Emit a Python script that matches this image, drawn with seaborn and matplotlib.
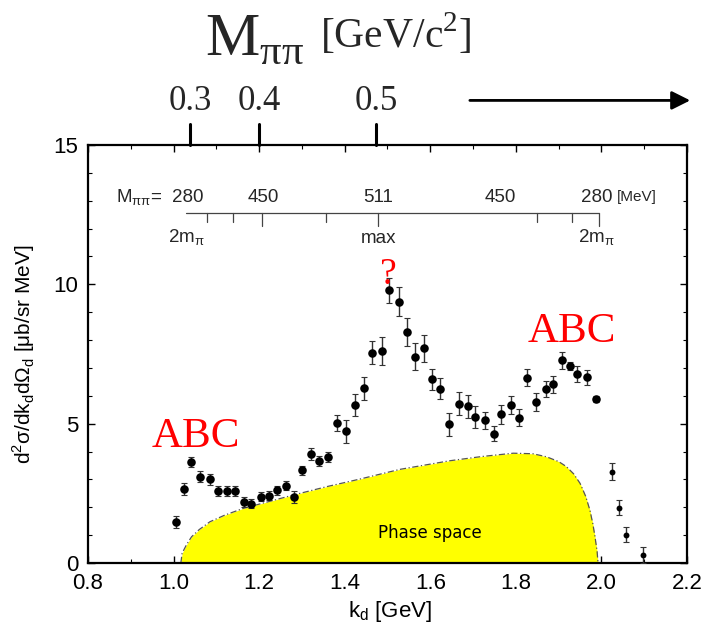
import matplotlib
matplotlib.use("Agg")
import matplotlib.pyplot as plt
import numpy as np
import pandas as pd
import seaborn as sns
from matplotlib.ticker import MultipleLocator, FormatStrFormatter

# Measured deuteron momentum spectrum
k_d = [1.006, 1.024, 1.041, 1.062, 1.085, 1.104, 1.125, 1.143, 1.164, 1.181,
       1.204, 1.222, 1.241, 1.262, 1.282, 1.301, 1.322, 1.341, 1.362, 1.382,
       1.403, 1.424, 1.444, 1.464, 1.487, 1.504, 1.526, 1.545, 1.565, 1.585,
       1.605, 1.623, 1.644, 1.667, 1.688, 1.705, 1.728, 1.748, 1.765, 1.788,
       1.807, 1.826, 1.847, 1.870, 1.887, 1.907, 1.927, 1.944, 1.967, 1.988,
       2.024, 2.042, 2.057, 2.096]
cross_section = [1.47, 2.66, 3.62, 3.09, 3.00, 2.57, 2.57, 2.57, 2.18, 2.13,
                 2.37, 2.42, 2.61, 2.78, 2.37, 3.32, 3.91, 3.66, 3.80, 5.03,
                 4.73, 5.67, 6.27, 7.55, 7.61, 9.78, 9.38, 8.29, 7.40, 7.70,
                 6.59, 6.26, 4.98, 5.72, 5.62, 5.23, 5.12, 4.64, 5.33, 5.67,
                 5.22, 6.65, 5.78, 6.24, 6.41, 7.27, 7.08, 6.78, 6.66, 5.88,
                 3.28, 1.99, 1.02, 0.28]
cross_section_err = [0.20, 0.21, 0.18, 0.20, 0.20, 0.18, 0.18, 0.18, 0.18, 0.17,
                     0.16, 0.16, 0.16, 0.17, 0.21, 0.16, 0.20, 0.18, 0.19, 0.28,
                     0.41, 0.39, 0.41, 0.40, 0.50, 0.44, 0.51, 0.51, 0.49, 0.49,
                     0.38, 0.38, 0.41, 0.40, 0.40, 0.39, 0.30, 0.27, 0.35, 0.32,
                     0.30, 0.30, 0.31, 0.28, 0.30, 0.30, 0.15, 0.28, 0.28, 0.10,
                     0.30, 0.28, 0.28, 0.28]

# Phase-space distribution (arbitrary normalisation)
phase_k = [1.017, 1.020, 1.030, 1.042, 1.060, 1.085, 1.120, 1.163, 1.202, 1.280,
           1.358, 1.435, 1.529, 1.646, 1.720, 1.794, 1.840, 1.872, 1.900, 1.918,
           1.935, 1.950, 1.963, 1.973, 1.980, 1.985, 1.990, 1.992]
phase_y = [0.00, 0.35, 0.65, 0.94, 1.20, 1.48, 1.72, 1.96, 2.12, 2.44,
           2.74, 3.01, 3.36, 3.67, 3.82, 3.94, 3.92, 3.81, 3.64, 3.46,
           3.20, 2.86, 2.40, 1.90, 1.40, 0.94, 0.40, 0.00]

# Pion-pair invariant mass scale (top, GeV/c^2)
mpipi_top_k = [1.038, 1.200, 1.473]
mpipi_top_labels = ["0.3", "0.4", "0.5"]

# Pion-pair invariant mass scale (inner, MeV)
inner_tick_k = [1.078, 1.139, 1.207, 1.356, 1.478, 1.849, 1.931, 1.994]
inner_major_k = [1.207, 1.478, 1.994]
inner_label_k = [1.034, 1.209, 1.478, 1.763, 1.989]
inner_labels = ["280", "450", "511", "450", "280"]

sns.set_theme(style="ticks")
plt.rcParams["font.family"] = ["Liberation Sans", "DejaVu Sans"]
SERIF = ["Liberation Serif", "DejaVu Serif"]

fig = plt.figure(figsize=(7.02, 6.30), dpi=100)
ax = fig.add_axes([88 / 702, 67 / 630, 599 / 702, 418 / 630])

df = pd.DataFrame({"k": k_d, "xs": cross_section, "err": cross_section_err})

# phase space
ax.fill_between(phase_k, phase_y, color="#ffff00", lw=0, zorder=1)
ax.plot(phase_k, phase_y, color="#555555", lw=0.9, ls=(0, (5, 2, 1, 2)), zorder=2)
ax.text(1.60, 1.08, "Phase space", ha="center", va="center", fontsize=12,
        family=["DejaVu Sans"], color="black")

# data
ax.errorbar(df["k"], df["xs"], yerr=df["err"], fmt="none", ecolor="#333333",
            elinewidth=1.0, capsize=2, capthick=0.8, zorder=3)
sns.scatterplot(data=df.iloc[:50], x="k", y="xs", color="black", s=38,
                linewidth=0, ax=ax, zorder=4)
sns.scatterplot(data=df.iloc[50:], x="k", y="xs", color="black", s=18,
                linewidth=0, ax=ax, zorder=4)

ax.set_xlim(0.8, 2.2)
ax.set_ylim(0, 15)
ax.xaxis.set_major_locator(MultipleLocator(0.2))
ax.xaxis.set_minor_locator(MultipleLocator(0.1))
ax.xaxis.set_major_formatter(FormatStrFormatter("%.1f"))
ax.yaxis.set_major_locator(MultipleLocator(5))
ax.yaxis.set_minor_locator(MultipleLocator(1))
ax.tick_params(which="both", direction="in", top=True, right=True, colors="black")
ax.tick_params(which="major", length=5, width=1.0, labelsize=16, pad=7)
ax.tick_params(which="minor", length=3, width=0.8)
for sp in ax.spines.values():
    sp.set_linewidth(1.6)
    sp.set_color("black")

ax.set_xlabel(r"k$_\mathregular{d}$ [GeV]", fontsize=16, color="black")
ax.set_ylabel(r"d$^\mathregular{2}$σ/dk$_\mathregular{d}$dΩ$_\mathregular{d}$ [μb/sr MeV]",
              fontsize=15, color="black")
ax.xaxis.set_label_coords(0.504, -0.085)
ax.yaxis.set_label_coords(-0.085, 0.5)

# annotations
ax.text(1.052, 4.16, "ABC", color="red", fontsize=31, family=SERIF, ha="center", va="baseline")
ax.text(1.931, 7.93, "ABC", color="red", fontsize=31, family=SERIF, ha="center", va="baseline")
ax.text(1.503, 10.02, "?", color="red", fontsize=27, family=SERIF, ha="center", va="baseline")

# inner M_pipi scale
ax.plot([1.029, 1.994], [12.56, 12.56], color="#444444", lw=0.9)
for kk in inner_tick_k:
    low = 12.1 if kk in inner_major_k else 12.25
    ax.plot([kk, kk], [12.56, low], color="#444444", lw=0.9)
for kk, lab in zip(inner_label_k, inner_labels):
    ax.text(kk, 13.1, lab, ha="center", va="center", fontsize=13.5)
ax.text(0.975, 13.1, r"M$_\mathregular{ππ}$=", ha="right", va="center", fontsize=13.5)
ax.text(2.083, 13.13, "[MeV]", ha="center", va="center", fontsize=11)
ax.text(1.031, 11.66, r"2m$_\mathregular{π}$", ha="center", va="center", fontsize=13.5)
ax.text(1.478, 11.66, "max", ha="center", va="center", fontsize=13.5)
ax.text(1.989, 11.66, r"2m$_\mathregular{π}$", ha="center", va="center", fontsize=13.5)

# top M_pipi scale in GeV/c^2
for kk, lab in zip(mpipi_top_k, mpipi_top_labels):
    ax.plot([kk, kk], [15.0, 15.75], color="black", lw=2.2, clip_on=False)
    ax.text(kk, 16.55, lab, ha="center", va="center", fontsize=25, family=SERIF)
ax.annotate("", xy=(2.214, 16.6), xytext=(1.686, 16.6),
            arrowprops=dict(arrowstyle="-|>", lw=2.0, color="black", mutation_scale=28),
            annotation_clip=False)

fig.text(205 / 702, 1 - 55 / 630, r"M$_\mathregular{ππ}$", fontsize=44, family=SERIF,
         va="baseline", ha="left")
fig.text(320 / 702, 1 - 48 / 630, r"[GeV/c$^\mathregular{2}$]", fontsize=30, family=SERIF,
         va="baseline", ha="left")

fig.savefig("out.png", dpi=100, facecolor="white")
